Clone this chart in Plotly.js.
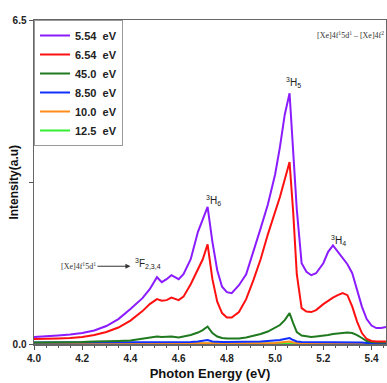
<!DOCTYPE html>
<html>
<head>
<meta charset="utf-8">
<script src="https://cdn.plot.ly/plotly-3.0.1.min.js"></script>
<style>html,body{margin:0;padding:0;background:#fff}#chart{width:387px;height:383px}</style>
</head>
<body>
<div id="chart"></div>
<script>
// Photon energy grid (eV)
const energy = [4.00,4.05,4.10,4.15,4.20,4.25,4.30,4.35,4.40,4.45,4.48,4.51,4.53,4.55,4.57,4.60,4.62,4.65,4.68,4.70,4.72,4.74,4.76,4.78,4.80,4.82,4.85,4.88,4.91,4.94,4.97,5.00,5.02,5.04,5.06,5.075,5.09,5.11,5.13,5.15,5.17,5.20,5.22,5.24,5.26,5.28,5.30,5.32,5.34,5.36,5.38,5.40,5.42,5.44,5.46];

// Intensity (a.u.) per excitation energy
const i554 = [0.14,0.15,0.17,0.19,0.22,0.27,0.36,0.50,0.70,0.92,1.10,1.34,1.24,1.30,1.38,1.30,1.40,1.70,2.25,2.50,2.75,2.05,1.48,1.15,1.04,1.02,1.18,1.40,1.85,2.32,2.80,3.40,3.95,4.60,5.03,3.95,2.70,1.62,1.45,1.38,1.42,1.62,1.85,1.98,1.85,1.72,1.60,1.42,1.08,0.75,0.50,0.37,0.32,0.32,0.34];
const i654 = [0.10,0.10,0.11,0.12,0.14,0.18,0.24,0.33,0.47,0.66,0.80,0.90,0.87,0.88,0.93,0.88,0.95,1.20,1.50,1.70,2.00,1.30,0.85,0.62,0.53,0.53,0.64,0.90,1.28,1.70,2.20,2.65,2.95,3.30,3.65,2.65,1.40,0.72,0.65,0.64,0.68,0.80,0.87,0.93,0.98,1.02,0.98,0.75,0.45,0.22,0.10,0.06,0.05,0.05,0.05];
const i450 = [0.03,0.03,0.03,0.04,0.04,0.05,0.05,0.06,0.07,0.10,0.13,0.15,0.14,0.14,0.15,0.13,0.15,0.18,0.23,0.28,0.35,0.22,0.15,0.12,0.11,0.11,0.11,0.13,0.16,0.20,0.25,0.32,0.38,0.48,0.62,0.42,0.24,0.17,0.15,0.14,0.15,0.16,0.18,0.20,0.21,0.22,0.23,0.22,0.18,0.12,0.06,0.04,0.03,0.03,0.03];
const i850 = [0.03,0.03,0.03,0.03,0.03,0.03,0.03,0.03,0.03,0.03,0.03,0.04,0.04,0.04,0.04,0.04,0.04,0.04,0.05,0.06,0.08,0.05,0.04,0.04,0.04,0.04,0.04,0.04,0.04,0.05,0.06,0.07,0.08,0.10,0.12,0.08,0.05,0.04,0.04,0.04,0.04,0.04,0.04,0.04,0.04,0.04,0.04,0.04,0.03,0.03,0.02,0.02,0.02,0.02,0.02];
const i100 = [0.01,0.01,0.01,0.01,0.01,0.01,0.01,0.01,0.01,0.01,0.01,0.01,0.01,0.01,0.01,0.01,0.01,0.01,0.01,0.01,0.02,0.01,0.01,0.01,0.01,0.01,0.01,0.01,0.01,0.01,0.02,0.02,0.03,0.04,0.05,0.03,0.02,0.01,0.01,0.01,0.01,0.01,0.01,0.01,0.01,0.01,0.01,0.01,0.01,0.01,0.01,0.01,0.01,0.01,0.01];
const i125 = [0.01,0.01,0.01,0.01,0.01,0.01,0.01,0.01,0.01,0.01,0.01,0.01,0.01,0.01,0.01,0.01,0.01,0.01,0.01,0.01,0.01,0.01,0.01,0.01,0.01,0.01,0.01,0.01,0.01,0.01,0.01,0.01,0.01,0.02,0.02,0.01,0.01,0.01,0.01,0.01,0.01,0.01,0.01,0.01,0.01,0.01,0.01,0.01,0.01,0.01,0.01,0.01,0.01,0.01,0.01];

const seriesNames = ["5.54  eV","6.54  eV","45.0  eV","8.50  eV","10.0  eV","12.5  eV"];
const seriesData = [i554, i654, i450, i850, i100, i125];
const seriesColors = ["#8a1cff","#ff1010","#1f7a1f","#1030ff","#ff8c1a","#33ee33"];

const yTickVals = [0, 3.25, 6.5];
const yTickText = ["0.0", "", "6.5"];
const xTickVals = [4.0,4.2,4.4,4.6,4.8,5.0,5.2,5.4];
const xTickText = ["4.0","4.2","4.4","4.6","4.8","5.0","5.2","5.4"];

const traces = seriesData.map((d, i) => ({
  x: energy, y: d, type: "scatter", mode: "lines", name: seriesNames[i],
  line: {color: seriesColors[i], width: 2}
}));
// draw weak ones beneath
const order = [5,4,3,2,1,0];
const data = order.map(k => traces[k]);

const bold = "Arial, Liberation Sans, sans-serif";
const layout = {
  width: 387, height: 383,
  margin: {l: 34, r: 1, t: 20, b: 39},
  paper_bgcolor: "#fff", plot_bgcolor: "#fff",
  showlegend: true,
  legend: {
    x: 0, y: 1, xanchor: "left", yanchor: "top",
    bgcolor: "#fff", bordercolor: "#999", borderwidth: 1,
    traceorder: "reversed",
    font: {family: bold, size: 11, color: "#222", weight: "bold"},
    tracegroupgap: 0, itemwidth: 30
  },
  xaxis: {
    range: [4.0, 5.46], showgrid: false, zeroline: false,
    showline: true, linecolor: "#666", linewidth: 1.5, mirror: true,
    ticks: "outside", ticklen: 4, tickcolor: "#555",
    tickvals: xTickVals, ticktext: xTickText,
    minor: {dtick: 0.05, tick0: 4.0, ticks: "outside", ticklen: 2, tickcolor: "#555"},
    tickfont: {family: bold, size: 10, color: "#222", weight: "bold"},
    title: {text: "Photon Energy (eV)", standoff: 6, font: {family: bold, size: 13, color: "#111", weight: "bold"}}
  },
  yaxis: {
    range: [0, 6.5], showgrid: false, zeroline: false,
    showline: true, linecolor: "#666", linewidth: 1.5, mirror: true,
    ticks: "outside", ticklen: 4, tickcolor: "#555",
    tickvals: yTickVals, ticktext: yTickText,
    tickfont: {family: bold, size: 10, color: "#222", weight: "bold"}
  },
  annotations: [
    {x: -0.058, xref: "paper", y: 0.5, yref: "paper", xanchor: "center", yanchor: "middle", textangle: -90, showarrow: false,
     text: "Intensity(a.u)", font: {family: bold, size: 12, color: "#111", weight: "bold"}},
    {x: 1, xref: "paper", y: 0.955, yref: "paper", xanchor: "right", yanchor: "middle", showarrow: false,
     text: "[Xe]4f<sup>1</sup>5d<sup>1</sup> – [Xe]4f<sup>2</sup>", font: {family: "Liberation Serif, serif", size: 8, color: "#333"}},
    {x: 5.075, y: 5.24, showarrow: false, text: "<sup>3</sup>H<sub>5</sub>", font: {family: bold, size: 10, color: "#222"}},
    {x: 4.743, y: 2.87, showarrow: false, text: "<sup>3</sup>H<sub>6</sub>", font: {family: bold, size: 10, color: "#222"}},
    {x: 5.265, y: 2.07, showarrow: false, text: "<sup>3</sup>H<sub>4</sub>", font: {family: bold, size: 10, color: "#222"}},
    {x: 4.473, y: 1.62, showarrow: false, text: "<sup>3</sup>F<sub>2,3,4</sub>", font: {family: bold, size: 10, color: "#222"}},
    {x: 4.40, y: 1.56, ax: -52, ay: 0, showarrow: true, arrowhead: 2, arrowsize: 1, arrowwidth: 1, arrowcolor: "#333", standoff: 0,
     text: "[Xe]4f<sup>1</sup>5d<sup>1</sup>", font: {family: "Liberation Serif, serif", size: 8, color: "#333"}}
  ]
};

Plotly.newPlot("chart", data, layout, {displayModeBar: false, staticPlot: true});
</script>
</body>
</html>
